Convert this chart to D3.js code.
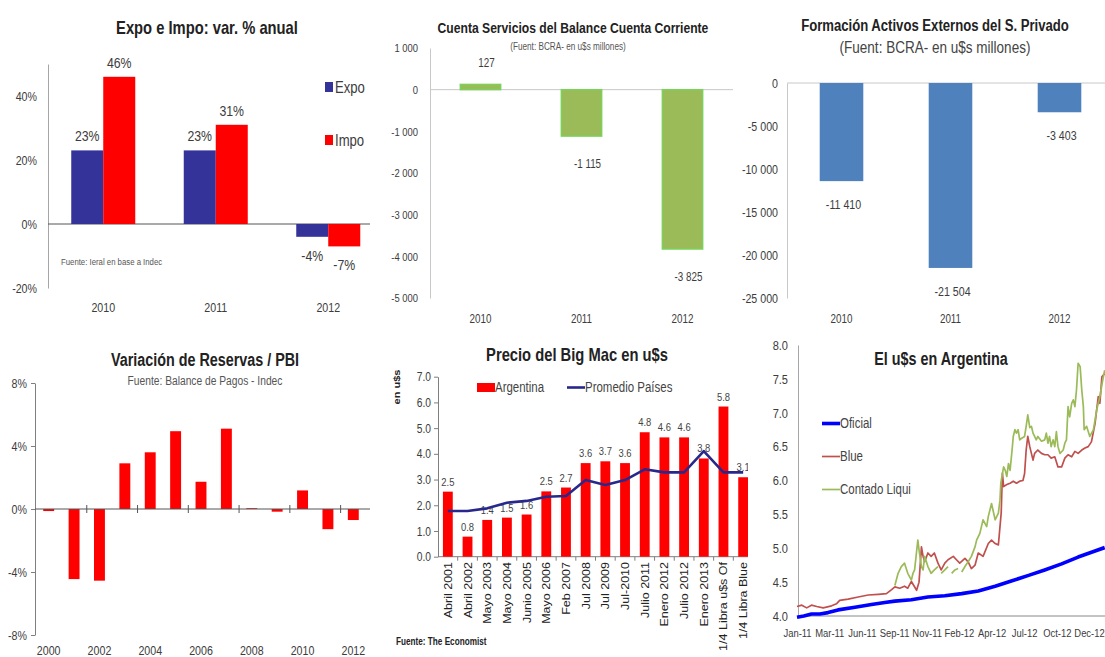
<!DOCTYPE html>
<html>
<head>
<meta charset="utf-8">
<script src="https://cdn.jsdelivr.net/npm/d3@7"></script>
<style>
  html, body { margin: 0; padding: 0; background: #fff; }
  svg { display: block; }
</style>
</head>
<body>
<svg id="board" width="1105" height="657"></svg>
<script>
// ---------- Expo e Impo: var. % anual ----------
const tradeYears = ["2010", "2011", "2012"];
const expoVar = [23, 23, -4];
const impoVar = [46, 31, -7];
const tradeTicks = [-20, 0, 20, 40];

// ---------- Cuenta Servicios ----------
const serviciosYears = ["2010", "2011", "2012"];
const serviciosValues = [127, -1115, -3825];
const serviciosTicks = [-5000, -4000, -3000, -2000, -1000, 0, 1000];

// ---------- Formación Activos Externos ----------
const activosYears = ["2010", "2011", "2012"];
const activosValues = [-11410, -21504, -3403];
const activosTicks = [-25000, -20000, -15000, -10000, -5000, 0];

// ---------- Variación de Reservas / PBI ----------
const reservasYears = ["2000","2001","2002","2003","2004","2005","2006","2007","2008","2009","2010","2011","2012"];
const reservasPBI = [-0.13, -4.45, -4.55, 2.9, 3.6, 4.94, 1.73, 5.1, 0.05, -0.17, 1.18, -1.28, -0.7];
const reservasTicks = [-8, -4, 0, 4, 8];
const reservasLabelYears = ["2000","2002","2004","2006","2008","2010","2012"];

// ---------- Precio del Big Mac ----------
const bigMacDates = ["Abril 2001","Abril 2002","Mayo 2003","Mayo 2004","Junio 2005","Mayo 2006","Feb 2007",
  "Jul 2008","Jul 2009","Jul-2010","Julio 2011","Enero 2012","Julio 2012","Enero 2013","1/4 Libra u$s Of","1/4 Libra Blue"];
const bigMacArgentina = [2.53, 0.78, 1.43, 1.52, 1.64, 2.54, 2.69, 3.64, 3.71, 3.64, 4.84, 4.64, 4.64, 3.82, 5.84, 3.09];
const bigMacPromedio = [1.78, 1.78, 1.88, 2.10, 2.17, 2.33, 2.36, 2.98, 2.79, 2.98, 3.40, 3.28, 3.28, 4.11, 3.28, 3.28];
const bigMacTicks = [0, 1, 2, 3, 4, 5, 6, 7];

// ---------- El u$s en Argentina ----------
const dolarTickDates = ["2011-01-03","2011-03-24","2011-06-13","2011-09-01","2011-11-21",
  "2012-02-09","2012-04-30","2012-07-20","2012-10-09","2012-12-28"];
const dolarTicksY = [4.0, 4.5, 5.0, 5.5, 6.0, 6.5, 7.0, 7.5, 8.0];
const dolarOficial = [
  ["2011-01-03",3.98],["2011-01-20",4.00],["2011-02-08",4.03],["2011-03-01",4.03],["2011-03-21",4.05],
  ["2011-04-15",4.09],["2011-05-27",4.13],["2011-07-07",4.17],["2011-08-09",4.20],["2011-09-03",4.22],
  ["2011-10-14",4.24],["2011-11-24",4.28],["2012-01-05",4.30],["2012-02-16",4.33],["2012-03-28",4.37],
  ["2012-05-09",4.44],["2012-06-20",4.52],["2012-07-31",4.60],["2012-09-09",4.68],["2012-10-21",4.77],
  ["2012-12-01",4.87],["2013-01-12",4.96],["2013-02-05",5.01]
];
const dolarBlue = [
  ["2011-01-03",4.14],["2011-01-15",4.16],["2011-01-27",4.12],["2011-02-08",4.16],["2011-02-21",4.14],
  ["2011-03-09",4.12],["2011-03-30",4.15],["2011-04-11",4.18],["2011-04-19",4.23],["2011-05-10",4.25],
  ["2011-06-04",4.28],["2011-06-29",4.31],["2011-07-24",4.32],["2011-08-13",4.33],["2011-08-26",4.39],
  ["2011-09-03",4.43],["2011-09-15",4.41],["2011-09-27",4.44],["2011-10-05",4.41],["2011-10-14",4.51],
  ["2011-10-27",4.38],["2011-11-02",4.50],["2011-11-08",5.02],["2011-11-12",4.88],["2011-11-16",4.80],
  ["2011-11-24",4.93],["2011-12-02",4.88],["2011-12-10",4.93],["2011-12-19",4.78],["2011-12-27",4.68],
  ["2012-01-05",4.78],["2012-01-13",4.83],["2012-01-26",4.88],["2012-02-03",4.83],["2012-02-11",4.78],
  ["2012-02-24",4.85],["2012-03-03",4.80],["2012-03-11",4.70],["2012-03-20",4.75],["2012-03-28",4.93],
  ["2012-04-09",4.88],["2012-04-22",5.07],["2012-04-30",5.12],["2012-05-09",5.07],["2012-05-17",5.05],
  ["2012-05-21",5.32],["2012-05-24",5.52],["2012-05-27",6.11],["2012-05-30",5.91],["2012-06-07",5.94],
  ["2012-06-15",5.96],["2012-06-23",5.99],["2012-07-01",5.96],["2012-07-09",5.99],["2012-07-17",6.00],
  ["2012-07-21",6.10],["2012-07-25",6.45],["2012-07-29",6.65],["2012-08-03",6.50],["2012-08-07",6.40],
  ["2012-08-11",6.30],["2012-08-15",6.40],["2012-08-23",6.45],["2012-09-01",6.40],["2012-09-09",6.38],
  ["2012-09-17",6.38],["2012-09-25",6.33],["2012-10-04",6.35],["2012-10-12",6.20],["2012-10-21",6.20],
  ["2012-10-29",6.33],["2012-11-06",6.38],["2012-11-15",6.35],["2012-11-23",6.43],["2012-12-01",6.40],
  ["2012-12-10",6.45],["2012-12-18",6.48],["2012-12-26",6.50],["2013-01-03",6.57],["2013-01-12",6.84],
  ["2013-01-20",7.24],["2013-01-24",7.14],["2013-01-29",7.53],["2013-02-05",7.58]
];
const dolarContado = [
  ["2011-09-03",4.45],["2011-09-11",4.63],["2011-09-19",4.73],["2011-09-27",4.78],["2011-10-05",4.63],
  ["2011-10-14",4.53],["2011-10-18",4.63],["2011-10-22",4.68],["2011-10-30",5.12],["2011-11-03",4.93],
  ["2011-11-08",4.73],["2011-11-12",4.68],["2011-11-16",4.88],["2011-11-24",4.73],["2011-12-02",4.63],
  ["2011-12-10",4.68],["2011-12-19",4.73],["2011-12-23",null],["2011-12-27",4.63],["2012-01-05",4.68],
  ["2012-01-13",4.73],["2012-01-17",null],["2012-01-22",4.63],["2012-01-30",4.68],["2012-02-07",4.70],
  ["2012-02-11",null],["2012-02-16",4.65],["2012-02-24",4.73],["2012-03-03",4.80],["2012-03-11",4.88],
  ["2012-03-20",5.02],["2012-03-24",5.12],["2012-04-01",5.22],["2012-04-09",5.42],["2012-04-18",5.32],
  ["2012-04-22",5.47],["2012-04-30",5.66],["2012-05-09",5.42],["2012-05-17",5.52],["2012-05-21",5.71],
  ["2012-05-23",5.96],["2012-05-30",6.20],["2012-06-03",6.15],["2012-06-07",6.06],["2012-06-11",6.25],
  ["2012-06-15",6.15],["2012-06-20",6.45],["2012-06-23",6.65],["2012-06-27",6.75],["2012-07-01",6.70],
  ["2012-07-05",6.75],["2012-07-09",6.60],["2012-07-13",6.62],["2012-07-21",6.65],["2012-07-25",6.80],
  ["2012-07-29",6.97],["2012-08-03",6.78],["2012-08-07",6.80],["2012-08-11",6.70],["2012-08-15",6.65],
  ["2012-08-19",6.60],["2012-08-23",6.65],["2012-09-01",6.58],["2012-09-09",6.60],["2012-09-13",6.70],
  ["2012-09-17",6.55],["2012-09-21",6.65],["2012-09-25",6.50],["2012-09-30",6.60],["2012-10-04",6.50],
  ["2012-10-08",6.72],["2012-10-12",6.50],["2012-10-17",6.40],["2012-10-25",6.45],["2012-10-29",6.55],
  ["2012-11-02",6.60],["2012-11-06",7.09],["2012-11-10",6.94],["2012-11-15",7.14],["2012-11-19",7.19],
  ["2012-11-23",7.09],["2012-11-27",7.34],["2012-12-01",7.73],["2012-12-06",7.68],["2012-12-10",7.34],
  ["2012-12-14",7.09],["2012-12-16",6.75],["2012-12-22",6.80],["2012-12-30",6.65],["2013-01-08",6.75],
  ["2013-01-12",6.89],["2013-01-16",7.04],["2013-01-24",7.24],["2013-01-31",7.48],["2013-02-05",7.63]
];

// ---------- shared helpers ----------
const FONT = '"Liberation Sans",Arial,sans-serif';
const SQUEEZE = 0.82;            // condensed lettering, as in the source slides
const INK = "#3c3c3c";
const svg = d3.select("#board");
const defs = svg.append("defs");
const parseDay = d3.timeParse("%Y-%m-%d");
const fmtSpace = d3.formatLocale({decimal: ",", thousands: "\u00a0", grouping: [3], currency: ["", ""], minus: "-"}).format(",d");

function panel(id, x, y, w, h) {
  defs.append("clipPath").attr("id", id).append("rect").attr("x", x).attr("y", y).attr("width", w).attr("height", h);
  return svg.append("g").attr("clip-path", `url(#${id})`);
}
function label(g, x, y, s, o = {}) {
  return g.append("text").attr("x", x).attr("y", y).text(s)
    .attr("font-family", FONT).attr("font-size", o.size || 12)
    .attr("font-weight", o.weight || "normal").attr("fill", o.fill || INK)
    .attr("text-anchor", o.anchor || "middle");
}
function styleAxis(g, o) {
  g.attr("font-family", FONT).attr("font-size", o.size || 12);
  g.selectAll("text").attr("fill", o.fill || INK);
  g.select(".domain").attr("stroke", o.line || "#999");
  g.selectAll(".tick line").attr("stroke", o.line || "#999");
}

// ================= Expo e Impo =================
{
  const g = panel("clipTrade", 0, 0, 370, 330);
  const y = d3.scaleLinear().domain([-20, 50]).range([288, 64]);
  const x = d3.scaleBand().domain(tradeYears).range([47, 384.5]);
  const bw = 32;
  const ax = g.append("g").attr("transform", "translate(48,0)")
    .call(d3.axisLeft(y).tickValues(tradeTicks).tickSize(0).tickSizeOuter(0).tickPadding(11).tickFormat(d => d + "%"));
  styleAxis(ax, {size: 13, line: "#a6a6a6"});
  g.append("line").attr("x1", 48).attr("x2", 370).attr("y1", y(0)).attr("y2", y(0)).attr("stroke", "#555");

  const series = [
    {name: "Expo", values: expoVar, color: "#333399", off: -bw},
    {name: "Impo", values: impoVar, color: "#ff0000", off: 0}
  ];
  series.forEach(s => {
    tradeYears.forEach((yr, i) => {
      const v = s.values[i];
      const cx = x(yr) + x.bandwidth() / 2;
      g.append("rect").attr("x", cx + s.off).attr("width", bw)
        .attr("y", y(Math.max(0, v))).attr("height", Math.abs(y(v) - y(0))).attr("fill", s.color);
      const ty = v >= 0 ? y(v) - 9 : y(v) + 24;
      label(g, cx + s.off + bw / 2, ty, `${v}%`, {size: 15});
    });
  });
  tradeYears.forEach(yr => label(g, x(yr) + x.bandwidth() / 2, 312, yr, {size: 13}));

  // legend
  series.forEach((s, i) => {
    g.append("rect").attr("x", 325).attr("y", 82 + i * 53).attr("width", 8).attr("height", 10).attr("fill", s.color);
    label(g, 335, 93 + i * 53, s.name, {size: 16, anchor: "start"});
  });
  label(g, 61, 265, "Fuente: Ieral en base a Indec", {size: 9.5, anchor: "start", fill: "#555"});
  label(g, 207, 34, "Expo e Impo: var. % anual", {size: 18, weight: "bold", fill: "#222"});
}

// ================= Cuenta Servicios =================
{
  const g = panel("clipServ", 370, 0, 368, 330);
  const y = d3.scaleLinear().domain([-5000, 1000]).range([298, 48]);
  const x = d3.scaleBand().domain(serviciosYears).range([430, 733]).paddingInner(0.6).paddingOuter(0.3);
  const ax = g.append("g").attr("transform", "translate(430,0)")
    .call(d3.axisLeft(y).tickValues(serviciosTicks).tickSize(0).tickSizeOuter(0).tickPadding(12).tickFormat(fmtSpace));
  styleAxis(ax, {size: 11.5, line: "#c8c8c8"});
  g.append("line").attr("x1", 430).attr("x2", 733).attr("y1", y(0)).attr("y2", y(0)).attr("stroke", "#c8c8c8");
  serviciosYears.forEach((yr, i) => {
    const v = serviciosValues[i];
    g.append("rect").attr("x", x(yr)).attr("width", x.bandwidth())
      .attr("y", y(Math.max(0, v))).attr("height", Math.abs(y(v) - y(0)))
      .attr("fill", "#9bbb59").attr("stroke", "#79d35a").attr("stroke-width", 1.4);
    const cx = x(yr) + x.bandwidth() / 2;
    label(g, cx + 6, v >= 0 ? y(v) - 17 : y(v) + 32, fmtSpace(v), {size: 12});
    label(g, cx, 323, yr, {size: 12});
  });
  label(g, 573, 33, "Cuenta Servicios del Balance Cuenta Corriente", {size: 14.8, weight: "bold", fill: "#222"});
  label(g, 568, 50, "(Fuent: BCRA- en u$s millones)", {size: 10, fill: "#555"});
}

// ================= Formación Activos Externos =================
{
  const g = panel("clipAct", 738, 0, 367, 330);
  const y = d3.scaleLinear().domain([-25000, 0]).range([298, 83]);
  const x = d3.scaleBand().domain(activosYears).range([787, 1114]).paddingInner(0.6).paddingOuter(0.3);
  const ax = g.append("g").attr("transform", "translate(787,0)")
    .call(d3.axisLeft(y).tickValues(activosTicks).tickSize(0).tickSizeOuter(0).tickPadding(9).tickFormat(fmtSpace));
  styleAxis(ax, {size: 13, line: "#c8c8c8"});
  g.append("line").attr("x1", 787).attr("x2", 1105).attr("y1", y(0)).attr("y2", y(0)).attr("stroke", "#c8c8c8");
  activosYears.forEach((yr, i) => {
    const v = activosValues[i];
    g.append("rect").attr("x", x(yr)).attr("width", x.bandwidth())
      .attr("y", y(Math.max(0, v))).attr("height", Math.abs(y(v) - y(0))).attr("fill", "#4f81bd");
    const cx = x(yr) + x.bandwidth() / 2;
    label(g, cx + 2, y(v) + 28, fmtSpace(v), {size: 13});
    label(g, cx, 323, yr, {size: 12});
  });
  label(g, 935, 31, "Formación Activos Externos del S. Privado", {size: 16, weight: "bold", fill: "#222"});
  label(g, 935, 53, "(Fuent: BCRA- en u$s millones)", {size: 16.5, fill: "#444"});
}

// ================= Variación de Reservas / PBI =================
{
  const g = panel("clipRes", 0, 330, 375, 327);
  const y = d3.scaleLinear().domain([-8, 8]).range([635, 383]);
  const x = d3.scaleBand().domain(reservasYears).range([36, 366]).paddingInner(0.57).paddingOuter(0.285);
  const ax = g.append("g").attr("transform", "translate(35,0)")
    .call(d3.axisLeft(y).tickValues(reservasTicks).tickSize(4).tickSizeOuter(0).tickPadding(4).tickFormat(d => d + "%"));
  styleAxis(ax, {size: 13, line: "#7f7f7f"});
  reservasYears.forEach((yr, i) => {
    const v = reservasPBI[i];
    g.append("rect").attr("x", x(yr)).attr("width", x.bandwidth())
      .attr("y", y(Math.max(0, v))).attr("height", Math.max(0.8, Math.abs(y(v) - y(0)))).attr("fill", "#ff0000");
  });
  // category axis along zero
  g.append("line").attr("x1", 35).attr("x2", 370).attr("y1", y(0)).attr("y2", y(0)).attr("stroke", "#555");
  const gap = (x.step() - x.bandwidth()) / 2;
  reservasLabelYears.slice(1).forEach(yr => {
    const bx = x(yr) - gap;
    g.append("line").attr("x1", bx).attr("x2", bx).attr("y1", y(0) - 4).attr("y2", y(0) + 4).attr("stroke", "#555");
  });
  reservasLabelYears.forEach(yr => label(g, x(yr) + x.bandwidth() / 2, 655, yr, {size: 13}));
  label(g, 205, 366, "Variación de Reservas / PBI", {size: 17.5, weight: "bold", fill: "#222"});
  label(g, 205, 385, "Fuente: Balance de Pagos - Indec", {size: 12.5, fill: "#555"});
}

// ================= Precio del Big Mac =================
{
  const g = panel("clipMac", 378, 330, 370, 327);
  const y = d3.scaleLinear().domain([0, 7]).range([556.7, 376.7]);
  const x = d3.scaleBand().domain(bigMacDates).range([438, 753]).paddingInner(0.5).paddingOuter(0.25);
  const ax = g.append("g").attr("transform", "translate(438,0)")
    .call(d3.axisLeft(y).tickValues(bigMacTicks).tickSize(4).tickSizeOuter(0).tickPadding(3).tickFormat(d3.format(".1f")));
  styleAxis(ax, {size: 12.5, line: "#7f7f7f"});
  g.append("line").attr("x1", 438).attr("x2", 753).attr("y1", y(0)).attr("y2", y(0)).attr("stroke", "#7f7f7f");
  bigMacDates.forEach(c => {
    const bx = x(c) - (x.step() - x.bandwidth()) / 2 + x.step();
    g.append("line").attr("x1", bx).attr("x2", bx).attr("y1", y(0)).attr("y2", y(0) + 4).attr("stroke", "#7f7f7f");
  });
  const cx = c => x(c) + x.bandwidth() / 2;
  bigMacDates.forEach((c, i) => {
    const v = bigMacArgentina[i];
    g.append("rect").attr("x", x(c)).attr("width", x.bandwidth())
      .attr("y", y(v)).attr("height", y(0) - y(v)).attr("fill", "#ff0000");
    label(g, cx(c), y(v) - 6, d3.format(".1f")(v), {size: 11.5, fill: "#444"});
    g.append("text").attr("class", "upright")
      .attr("transform", `translate(${cx(c) + 4},562) rotate(-90) scale(1,${SQUEEZE})`)
      .attr("text-anchor", "end").attr("font-family", FONT).attr("font-size", 12.5).attr("fill", "#222")
      .text(c);
  });
  const line = d3.line().x((d, i) => cx(bigMacDates[i])).y(d => y(d));
  g.append("path").datum(bigMacPromedio).attr("d", line)
    .attr("fill", "none").attr("stroke", "#28288c").attr("stroke-width", 2.6).attr("stroke-linejoin", "round");

  // legend
  g.append("rect").attr("x", 477).attr("y", 383).attr("width", 18).attr("height", 9).attr("fill", "#ff0000");
  label(g, 495, 392, "Argentina", {size: 14, anchor: "start", fill: "#444"});
  g.append("line").attr("x1", 567).attr("x2", 585).attr("y1", 387.5).attr("y2", 387.5).attr("stroke", "#28288c").attr("stroke-width", 2.6);
  label(g, 585, 392, "Promedio Países", {size: 14, anchor: "start", fill: "#444"});

  g.append("text").attr("class", "upright")
    .attr("transform", `translate(400,387) rotate(-90) scale(1,${SQUEEZE})`).attr("text-anchor", "middle")
    .attr("font-family", FONT).attr("font-size", 11).attr("font-weight", "bold").attr("fill", "#222").text("en u$s");
  label(g, 396, 645, "Fuente: The Economist", {size: 10, weight: "bold", anchor: "start", fill: "#222"});
  label(g, 577, 361, "Precio del Big Mac en u$s", {size: 18, weight: "bold", fill: "#222"});
}

// ================= El u$s en Argentina =================
{
  const g = panel("clipDolar", 748, 330, 357, 327);
  const x = d3.scaleTime().domain([parseDay("2011-01-03"), parseDay("2012-12-28")]).range([797, 1089]);
  const y = d3.scaleLinear().domain([4, 8]).range([616, 345]);
  const ay = g.append("g").attr("transform", "translate(798,0)")
    .call(d3.axisLeft(y).tickValues(dolarTicksY).tickSize(0).tickSizeOuter(0).tickPadding(10).tickFormat(d3.format(".1f")));
  styleAxis(ay, {size: 13.5, line: "#a6a6a6"});
  const axx = g.append("g").attr("transform", "translate(0,616)")
    .call(d3.axisBottom(x).tickValues(dolarTickDates.map(parseDay)).tickSize(0).tickSizeOuter(0).tickPadding(13)
      .tickFormat(d3.timeFormat("%b-%y")));
  styleAxis(axx, {size: 11.5, line: "#888"});
  axx.select(".domain").attr("d", "M798,0H1105");

  const line = d3.line().defined(d => d[1] != null).x(d => x(parseDay(d[0]))).y(d => y(d[1]));
  const series = [
    {name: "Oficial", data: dolarOficial, color: "#0000ff", width: 3.6},
    {name: "Blue", data: dolarBlue, color: "#c0504d", width: 1.7},
    {name: "Contado Liqui", data: dolarContado, color: "#9bbb59", width: 1.7}
  ];
  series.forEach(s => {
    g.append("path").datum(s.data).attr("d", line).attr("fill", "none")
      .attr("stroke", s.color).attr("stroke-width", s.width).attr("stroke-linejoin", "round");
  });
  series.forEach((s, i) => {
    const ly = 423.5 + i * 33;
    g.append("line").attr("x1", 822).attr("x2", 840).attr("y1", ly).attr("y2", ly)
      .attr("stroke", s.color).attr("stroke-width", s.width);
    label(g, 840, ly + 4.5, s.name, {size: 14, anchor: "start", fill: "#444"});
  });
  label(g, 941, 365, "El u$s en Argentina", {size: 17.5, weight: "bold", fill: "#222"});
}

// Condense all horizontal lettering around its own anchor point.
svg.selectAll("text:not(.upright)").each(function () {
  const t = d3.select(this);
  const ax = +t.attr("x") || 0;
  t.attr("transform", `translate(${ax},0) scale(${SQUEEZE},1) translate(${-ax},0)`);
});
</script>
</body>
</html>
